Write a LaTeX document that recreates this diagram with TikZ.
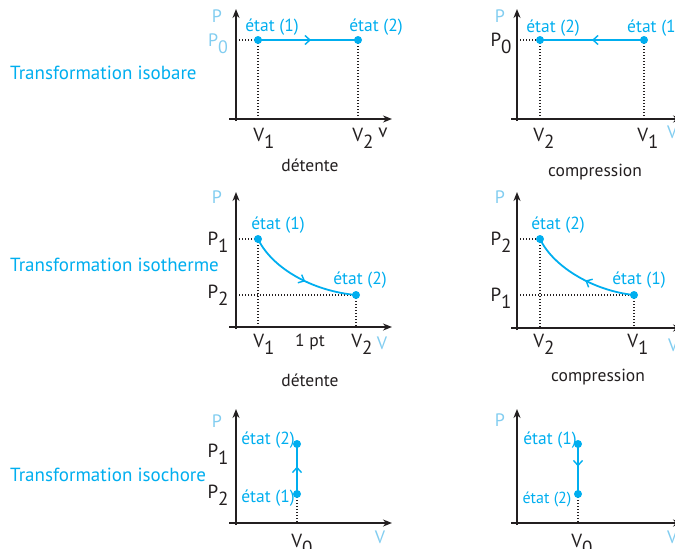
\documentclass[tikz,border=0pt]{standalone}
\usepackage{fontspec}
\setmainfont{PT Sans}
\usetikzlibrary{arrows.meta,decorations.markings}
\definecolor{cyanx}{RGB}{0,174,239}
\definecolor{palex}{RGB}{130,205,240}
\definecolor{darkx}{RGB}{35,31,32}
\newcommand\sbs[1]{\raisebox{-0.4em}{#1}}
\begin{document}
\begin{tikzpicture}[x=1pt,y=-1pt,
 axis/.style={line width=2.2pt, draw=darkx, -{Stealth[length=9pt,width=7pt]}},
 guide/.style={line width=1.3pt, draw=darkx, dash pattern=on 1.4pt off 1.6pt},
 proc/.style={line width=1.8pt, draw=cyanx},
 statept/.style={circle, fill=cyanx, inner sep=0pt, minimum size=8pt},
 etat/.style={text=cyanx, font=\fontsize{17.5}{17.5}\selectfont, inner sep=0pt},
 lab/.style={text=darkx, font=\fontsize{19}{19}\selectfont, inner sep=0pt, anchor=base},
 plab/.style={text=palex, font=\fontsize{18}{18}\selectfont, inner sep=0pt},
 captxt/.style={text=darkx, font=\fontsize{17.5}{17.5}\selectfont, inner sep=0pt},
 rowlab/.style={text=cyanx, font=\fontsize{19}{19}\selectfont, anchor=west, inner sep=0pt},
 midarrow/.style={postaction=decorate, decoration={markings, mark=at position #1 with {\arrow[cyanx]{Straight Barb[length=5pt,width=9pt,line width=1.4pt]}}}}]
\useasboundingbox (0,0) rectangle (675,549);

% row labels
\node[rowlab] (r1) at (10,73) {Transformation isobare};
\node[rowlab] (r2) at (10,265) {Transformation isotherme};
\node[rowlab] (r3) at (10,475) {Transformation isochore};

% ---------- panel 1 ----------
\coordinate (a1o) at (236,119);
\coordinate (a1xs) at (229,119); \coordinate (a1xe) at (392,119);
\coordinate (a1ys) at (236,121); \coordinate (a1ye) at (236,9);
\draw[axis] (a1xs) -- (a1xe);
\draw[axis] (a1ys) -- (a1ye);
\coordinate (a1p1) at (258,40); \coordinate (a1p2) at (358,40);
\draw[guide] (a1o |- a1p1) -- (a1p1);
\draw[guide] (a1p1) -- (a1p1 |- a1o);
\draw[guide] (a1p2) -- (a1p2 |- a1o);
\draw[proc, midarrow=0.53] (a1p1) -- (a1p2);
\node[statept] (a1s1) at (a1p1) {};
\node[statept] (a1s2) at (a1p2) {};
\node[plab] (a1P) at (217,16) {P};
\node[plab, anchor=base] (a1P0) at (218,46) {P\sbs{0}};
\node[etat] (a1e1) at (272,27) {état (1)};
\node[etat] (a1e2) at (376,27) {état (2)};
\node[lab] (a1V1) at (264,141) {V\sbs{1}};
\node[lab] (a1V2) at (363,141) {V\sbs{2}};
\node[lab] (a1V) at (383,137) {v};
\node[captxt] (a1c) at (310,165) {détente};

% ---------- panel 2 ----------
\coordinate (a2o) at (517,119);
\coordinate (a2xs) at (511,119); \coordinate (a2xe) at (682,119);
\coordinate (a2ys) at (517,121); \coordinate (a2ye) at (517,9);
\draw[axis] (a2xs) -- (a2xe);
\draw[axis] (a2ys) -- (a2ye);
\coordinate (a2p1) at (644,40); \coordinate (a2p2) at (540,40);
\draw[guide] (a2o |- a2p2) -- (a2p2);
\draw[guide] (a2p2) -- (a2p2 |- a2o);
\draw[guide] (a2p1) -- (a2p1 |- a2o);
\draw[proc, midarrow=0.5] (a2p1) -- (a2p2);
\node[statept] (a2s1) at (a2p1) {};
\node[statept] (a2s2) at (a2p2) {};
\node[plab] (a2P) at (500,16) {P};
\node[lab] (a2P0) at (501,46) {P\sbs{0}};
\node[etat] (a2e2) at (553,28) {état (2)};
\node[etat, anchor=west] (a2e1) at (627,28) {état (1)};
\node[lab] (a2V2) at (544,141) {V\sbs{2}};
\node[lab] (a2V1) at (648,141) {V\sbs{1}};
\node[plab, anchor=west] (a2V) at (667,132) {V};
\node[captxt] (a2c) at (595,172) {compression};

% ---------- panel 3 ----------
\coordinate (a3o) at (236,327);
\coordinate (a3xs) at (229,327); \coordinate (a3xe) at (392,327);
\coordinate (a3ys) at (236,329); \coordinate (a3ye) at (236,192);
\draw[axis] (a3xs) -- (a3xe);
\draw[axis] (a3ys) -- (a3ye);
\coordinate (a3p1) at (258,239); \coordinate (a3p2) at (356,295);
\draw[guide] (a3o |- a3p1) -- (a3p1);
\draw[guide] (a3o |- a3p2) -- (a3p2);
\draw[guide] (a3p1) -- (a3p1 |- a3o);
\draw[guide] (a3p2) -- (a3p2 |- a3o);
\draw[proc, midarrow=0.55] (a3p1) .. controls (272,268) and (312,291) .. (a3p2);
\node[statept] (a3s1) at (a3p1) {};
\node[statept] (a3s2) at (a3p2) {};
\node[plab] (a3P) at (217,197) {P};
\node[lab] (a3P1) at (218,245) {P\sbs{1}};
\node[lab] (a3P2) at (218,298) {P\sbs{2}};
\node[etat] (a3e1) at (278,225) {état (1)};
\node[etat] (a3e2) at (360,280) {état (2)};
\node[lab] (a3V1) at (264,347) {V\sbs{1}};
\node[captxt] (a3pt) at (310,342) {1 pt};
\node[lab] (a3V2) at (362,347) {V\sbs{2}};
\node[plab] (a3V) at (382,343) {V};
\node[captxt] (a3c) at (310,380) {détente};

% ---------- panel 4 ----------
\coordinate (a4o) at (517,328);
\coordinate (a4xs) at (511,328); \coordinate (a4xe) at (682,328);
\coordinate (a4ys) at (517,330); \coordinate (a4ye) at (517,192);
\draw[axis] (a4xs) -- (a4xe);
\draw[axis] (a4ys) -- (a4ye);
\coordinate (a4p1) at (634,295); \coordinate (a4p2) at (540,239);
\draw[guide] (a4o |- a4p2) -- (a4p2);
\draw[guide] (a4o |- a4p1) -- (a4p1);
\draw[guide] (a4p2) -- (a4p2 |- a4o);
\draw[guide] (a4p1) -- (a4p1 |- a4o);
\draw[proc, midarrow=0.45] (a4p1) .. controls (595,291) and (554,268) .. (a4p2);
\node[statept] (a4s1) at (a4p1) {};
\node[statept] (a4s2) at (a4p2) {};
\node[plab] (a4P) at (500,197) {P};
\node[lab] (a4P2) at (501,245) {P\sbs{2}};
\node[lab] (a4P1) at (501,301) {P\sbs{1}};
\node[etat] (a4e2) at (558,225) {état (2)};
\node[etat] (a4e1) at (639,280) {état (1)};
\node[lab] (a4V2) at (544,347) {V\sbs{2}};
\node[lab] (a4V1) at (638,347) {V\sbs{1}};
\node[plab, anchor=west] (a4V) at (668,345) {V};
\node[captxt] (a4c) at (598,377) {compression};

% ---------- panel 5 ----------
\coordinate (a5o) at (236,523);
\coordinate (a5xs) at (229,523); \coordinate (a5xe) at (392,523);
\coordinate (a5ys) at (236,525); \coordinate (a5ye) at (236,409);
\draw[axis] (a5xs) -- (a5xe);
\draw[axis] (a5ys) -- (a5ye);
\coordinate (a5p1) at (297,494); \coordinate (a5p2) at (297,444);
\draw[guide] (a5p1) -- (a5p1 |- a5o);
\draw[proc, midarrow=0.55] (a5p1) -- (a5p2);
\node[statept] (a5s1) at (a5p1) {};
\node[statept] (a5s2) at (a5p2) {};
\node[plab] (a5P) at (217,421) {P};
\node[lab] (a5P1) at (218,457) {P\sbs{1}};
\node[lab] (a5P2) at (218,498) {P\sbs{2}};
\node[etat] (a5e2) at (268,440) {état (2)};
\node[etat] (a5e1) at (268,498) {état (1)};
\node[lab] (a5V0) at (302,547) {V\sbs{0}};
\node[plab] (a5V) at (380,537) {V};

% ---------- panel 6 ----------
\coordinate (a6o) at (517,523);
\coordinate (a6xs) at (511,523); \coordinate (a6xe) at (682,523);
\coordinate (a6ys) at (517,525); \coordinate (a6ye) at (517,409);
\draw[axis] (a6xs) -- (a6xe);
\draw[axis] (a6ys) -- (a6ye);
\coordinate (a6p1) at (578,444); \coordinate (a6p2) at (578,494);
\draw[guide] (a6p2) -- (a6p2 |- a6o);
\draw[proc, midarrow=0.45] (a6p1) -- (a6p2);
\node[statept] (a6s1) at (a6p1) {};
\node[statept] (a6s2) at (a6p2) {};
\node[plab] (a6P) at (500,420) {P};
\node[etat] (a6e1) at (550,440) {état (1)};
\node[etat, font=\fontsize{16}{16}\selectfont] (a6e2) at (547,499) {état (2)};
\node[lab] (a6V0) at (582,547) {V\sbs{0}};
\node[plab, anchor=west] (a6V) at (667,537) {V};
\end{tikzpicture}
\end{document}
